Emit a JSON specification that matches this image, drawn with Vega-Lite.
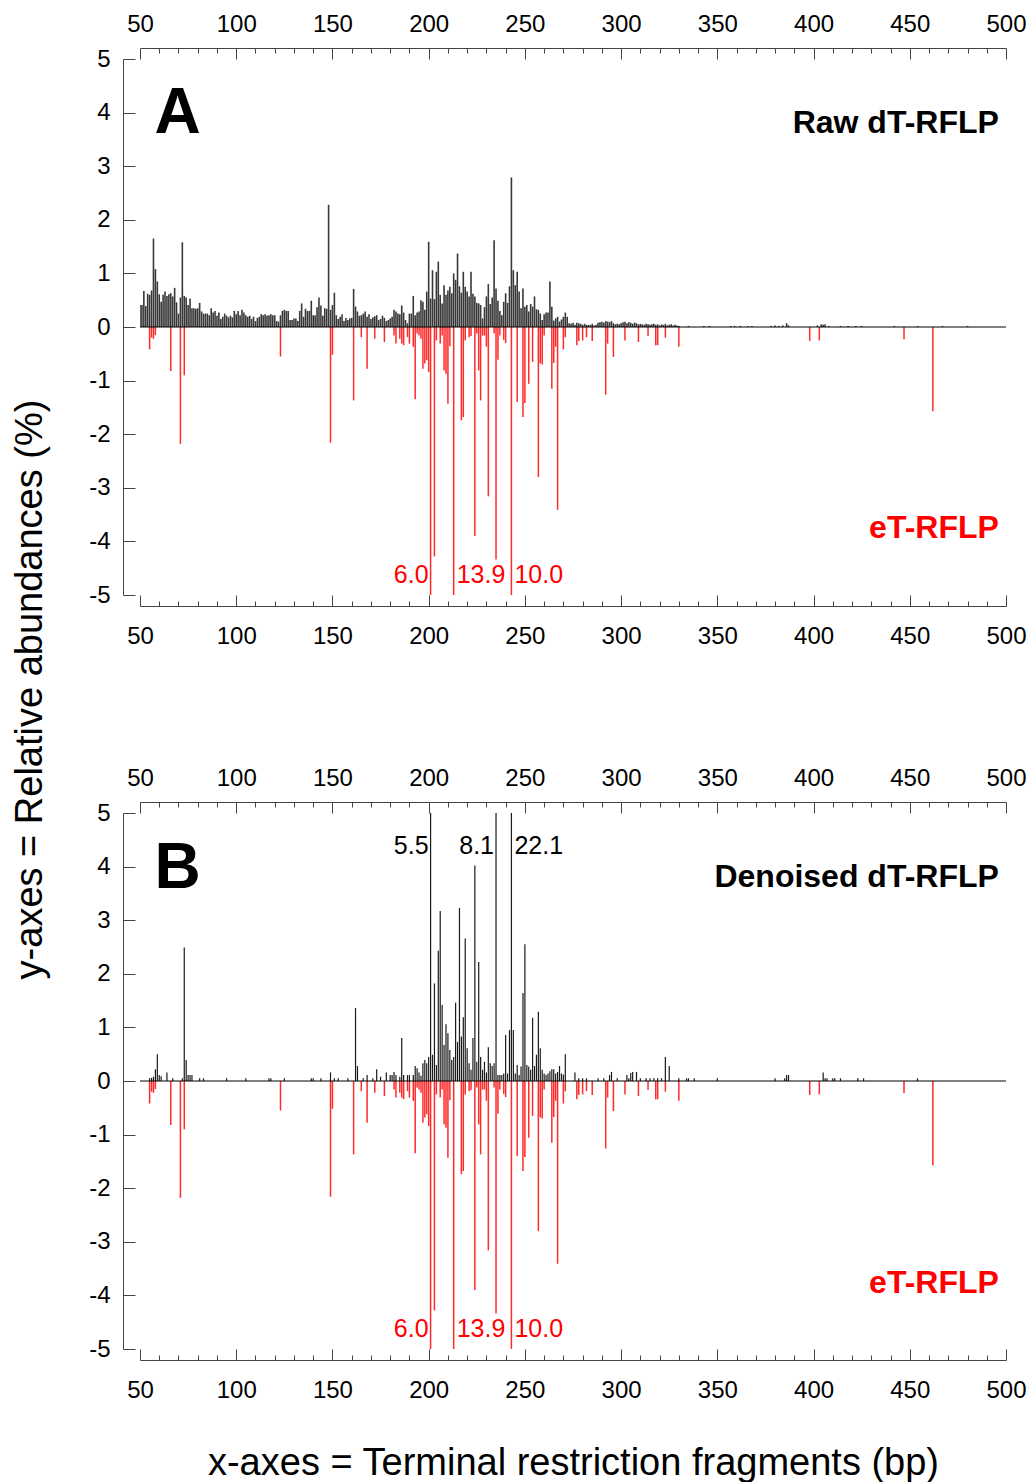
{
  "$schema": "https://vega.github.io/schema/vega-lite/v6.json",
  "padding": {"left": 11, "top": 6, "right": 0, "bottom": 0},
  "background": "white",
  "config": {
    "font": "Liberation Sans",
    "view": {"stroke": null},
    "axis": {"grid": false, "labelFont": "Liberation Sans", "titleFont": "Liberation Sans", "labelColor": "black", "titleColor": "black", "domainColor": "#444", "tickColor": "#444", "labelFontSize": 24, "titleFontSize": 38, "titleFontWeight": "normal", "labelOverlap": false, "labelFlush": false, "tickWidth": 1, "domainWidth": 1}
  },
  "datasets": {
    "eT": [
      {"bp":55,"v":-0.42},{"bp":56,"v":-0.2},{"bp":57,"v":-0.22},{"bp":58,"v":-0.15},{"bp":66,"v":-0.82},{"bp":71,"v":-2.18},{"bp":73,"v":-0.9},{"bp":123,"v":-0.55},{"bp":149,"v":-2.16},{"bp":150,"v":-0.52},{"bp":161,"v":-1.37},{"bp":165,"v":-0.19},{"bp":168,"v":-0.78},{"bp":172,"v":-0.22},{"bp":177,"v":-0.28},{"bp":182,"v":-0.16},{"bp":183,"v":-0.31},{"bp":185,"v":-0.22},{"bp":186,"v":-0.31},{"bp":187,"v":-0.34},{"bp":189,"v":-0.19},{"bp":190,"v":-0.31},{"bp":192,"v":-0.37},{"bp":193,"v":-1.35},{"bp":194,"v":-0.12},{"bp":195,"v":-0.16},{"bp":196,"v":-0.22},{"bp":197,"v":-0.78},{"bp":198,"v":-0.68},{"bp":199,"v":-0.62},{"bp":200,"v":-0.84},{"bp":201,"v":-6.0},{"bp":203,"v":-4.28},{"bp":204,"v":-0.25},{"bp":206,"v":-0.31},{"bp":207,"v":-0.16},{"bp":208,"v":-0.81},{"bp":209,"v":-0.87},{"bp":210,"v":-1.43},{"bp":211,"v":-0.36},{"bp":213,"v":-13.9},{"bp":217,"v":-1.74},{"bp":218,"v":-1.68},{"bp":219,"v":-0.25},{"bp":221,"v":-0.19},{"bp":222,"v":-0.17},{"bp":224,"v":-3.9},{"bp":225,"v":-0.12},{"bp":226,"v":-0.81},{"bp":227,"v":-1.37},{"bp":228,"v":-0.16},{"bp":229,"v":-0.16},{"bp":230,"v":-0.37},{"bp":231,"v":-3.16},{"bp":234,"v":-0.12},{"bp":235,"v":-4.34},{"bp":236,"v":-0.61},{"bp":237,"v":-0.16},{"bp":239,"v":-0.24},{"bp":240,"v":-0.3},{"bp":243,"v":-10.0},{"bp":246,"v":-1.4},{"bp":249,"v":-1.68},{"bp":250,"v":-1.42},{"bp":252,"v":-1.06},{"bp":254,"v":-0.65},{"bp":257,"v":-2.8},{"bp":258,"v":-0.68},{"bp":259,"v":-0.7},{"bp":260,"v":-0.16},{"bp":264,"v":-1.15},{"bp":265,"v":-0.67},{"bp":266,"v":-0.37},{"bp":267,"v":-3.41},{"bp":270,"v":-0.42},{"bp":271,"v":-0.19},{"bp":277,"v":-0.34},{"bp":278,"v":-0.26},{"bp":280,"v":-0.25},{"bp":282,"v":-0.19},{"bp":285,"v":-0.26},{"bp":292,"v":-1.26},{"bp":293,"v":-0.31},{"bp":296,"v":-0.56},{"bp":302,"v":-0.25},{"bp":309,"v":-0.28},{"bp":314,"v":-0.17},{"bp":318,"v":-0.34},{"bp":319,"v":-0.34},{"bp":323,"v":-0.2},{"bp":330,"v":-0.37},{"bp":398,"v":-0.26},{"bp":403,"v":-0.25},{"bp":447,"v":-0.23},{"bp":462,"v":-1.57}
    ],
    "raw": [
      {"bp":50,"v":0.41},{"bp":51,"v":0.41},{"bp":52,"v":0.67},{"bp":53,"v":0.39},{"bp":54,"v":0.62},{"bp":55,"v":0.6},{"bp":56,"v":0.68},{"bp":57,"v":1.65},{"bp":58,"v":1.08},{"bp":59,"v":0.85},{"bp":60,"v":0.61},{"bp":61,"v":0.47},{"bp":62,"v":0.6},{"bp":63,"v":0.66},{"bp":64,"v":0.58},{"bp":65,"v":0.61},{"bp":66,"v":0.63},{"bp":67,"v":0.57},{"bp":68,"v":0.73},{"bp":69,"v":0.46},{"bp":70,"v":0.25},{"bp":71,"v":0.55},{"bp":72,"v":1.58},{"bp":73,"v":0.58},{"bp":74,"v":0.55},{"bp":75,"v":0.41},{"bp":76,"v":0.53},{"bp":77,"v":0.35},{"bp":78,"v":0.35},{"bp":79,"v":0.34},{"bp":80,"v":0.35},{"bp":81,"v":0.45},{"bp":82,"v":0.29},{"bp":83,"v":0.25},{"bp":84,"v":0.25},{"bp":85,"v":0.25},{"bp":86,"v":0.22},{"bp":87,"v":0.35},{"bp":88,"v":0.27},{"bp":89,"v":0.3},{"bp":90,"v":0.21},{"bp":91,"v":0.27},{"bp":92,"v":0.15},{"bp":93,"v":0.19},{"bp":94,"v":0.25},{"bp":95,"v":0.21},{"bp":96,"v":0.18},{"bp":97,"v":0.21},{"bp":98,"v":0.18},{"bp":99,"v":0.3},
      {"bp":100,"v":0.24},{"bp":101,"v":0.3},{"bp":102,"v":0.22},{"bp":103,"v":0.32},{"bp":104,"v":0.27},{"bp":105,"v":0.22},{"bp":106,"v":0.19},{"bp":107,"v":0.21},{"bp":108,"v":0.15},{"bp":109,"v":0.19},{"bp":110,"v":0.11},{"bp":111,"v":0.17},{"bp":112,"v":0.19},{"bp":113,"v":0.24},{"bp":114,"v":0.22},{"bp":115,"v":0.24},{"bp":116,"v":0.21},{"bp":117,"v":0.22},{"bp":118,"v":0.24},{"bp":119,"v":0.22},{"bp":120,"v":0.22},{"bp":121,"v":0.11},{"bp":122,"v":0.1},{"bp":123,"v":0.22},{"bp":124,"v":0.3},{"bp":125,"v":0.32},{"bp":126,"v":0.3},{"bp":127,"v":0.3},{"bp":128,"v":0.13},{"bp":129,"v":0.13},{"bp":130,"v":0.16},{"bp":131,"v":0.16},{"bp":132,"v":0.11},{"bp":133,"v":0.3},{"bp":134,"v":0.44},{"bp":135,"v":0.19},{"bp":136,"v":0.34},{"bp":137,"v":0.3},{"bp":138,"v":0.3},{"bp":139,"v":0.49},{"bp":140,"v":0.22},{"bp":141,"v":0.22},{"bp":142,"v":0.37},{"bp":143,"v":0.55},{"bp":144,"v":0.4},{"bp":145,"v":0.21},{"bp":146,"v":0.35},{"bp":147,"v":0.34},{"bp":148,"v":2.28},{"bp":149,"v":0.32},
      {"bp":150,"v":0.41},{"bp":151,"v":0.64},{"bp":152,"v":0.22},{"bp":153,"v":0.15},{"bp":154,"v":0.19},{"bp":155,"v":0.24},{"bp":156,"v":0.11},{"bp":157,"v":0.17},{"bp":158,"v":0.13},{"bp":159,"v":0.16},{"bp":160,"v":0.17},{"bp":161,"v":0.71},{"bp":162,"v":0.38},{"bp":163,"v":0.29},{"bp":164,"v":0.21},{"bp":165,"v":0.22},{"bp":166,"v":0.25},{"bp":167,"v":0.29},{"bp":168,"v":0.19},{"bp":169,"v":0.24},{"bp":170,"v":0.15},{"bp":171,"v":0.18},{"bp":172,"v":0.2},{"bp":173,"v":0.22},{"bp":174,"v":0.13},{"bp":175,"v":0.15},{"bp":176,"v":0.21},{"bp":177,"v":0.17},{"bp":178,"v":0.11},{"bp":179,"v":0.13},{"bp":180,"v":0.16},{"bp":181,"v":0.19},{"bp":182,"v":0.32},{"bp":183,"v":0.29},{"bp":184,"v":0.25},{"bp":185,"v":0.24},{"bp":186,"v":0.4},{"bp":187,"v":0.27},{"bp":188,"v":0.13},{"bp":189,"v":0.07},{"bp":190,"v":0.25},{"bp":191,"v":0.25},{"bp":192,"v":0.58},{"bp":193,"v":0.22},{"bp":194,"v":0.27},{"bp":195,"v":0.29},{"bp":196,"v":0.5},{"bp":197,"v":0.47},{"bp":198,"v":0.32},{"bp":199,"v":0.66},
      {"bp":200,"v":1.59},{"bp":201,"v":0.53},{"bp":202,"v":1.06},{"bp":203,"v":0.52},{"bp":204,"v":1.03},{"bp":205,"v":1.22},{"bp":206,"v":0.6},{"bp":207,"v":0.44},{"bp":208,"v":0.78},{"bp":209,"v":0.6},{"bp":210,"v":0.68},{"bp":211,"v":0.75},{"bp":212,"v":0.63},{"bp":213,"v":1.0},{"bp":214,"v":0.88},{"bp":215,"v":1.37},{"bp":216,"v":0.76},{"bp":217,"v":0.64},{"bp":218,"v":1.03},{"bp":219,"v":0.75},{"bp":220,"v":0.66},{"bp":221,"v":0.57},{"bp":222,"v":1.03},{"bp":223,"v":0.62},{"bp":224,"v":0.57},{"bp":225,"v":0.45},{"bp":226,"v":0.44},{"bp":227,"v":0.41},{"bp":228,"v":0.16},{"bp":229,"v":0.37},{"bp":230,"v":0.57},{"bp":231,"v":0.8},{"bp":232,"v":0.43},{"bp":233,"v":0.55},{"bp":234,"v":1.62},{"bp":235,"v":0.72},{"bp":236,"v":0.49},{"bp":237,"v":0.3},{"bp":238,"v":0.22},{"bp":239,"v":0.47},{"bp":240,"v":0.63},{"bp":241,"v":0.45},{"bp":242,"v":0.76},{"bp":243,"v":2.79},{"bp":244,"v":1.06},{"bp":245,"v":0.78},{"bp":246,"v":1.03},{"bp":247,"v":0.66},{"bp":248,"v":0.35},{"bp":249,"v":0.72},
      {"bp":250,"v":0.38},{"bp":251,"v":0.41},{"bp":252,"v":0.29},{"bp":253,"v":0.43},{"bp":254,"v":0.38},{"bp":255,"v":0.57},{"bp":256,"v":0.33},{"bp":257,"v":0.32},{"bp":258,"v":0.25},{"bp":259,"v":0.13},{"bp":260,"v":0.24},{"bp":261,"v":0.27},{"bp":262,"v":0.27},{"bp":263,"v":0.85},{"bp":264,"v":0.38},{"bp":265,"v":0.12},{"bp":266,"v":0.16},{"bp":267,"v":0.19},{"bp":268,"v":0.1},{"bp":269,"v":0.14},{"bp":270,"v":0.19},{"bp":271,"v":0.27},{"bp":272,"v":0.19},{"bp":273,"v":0.07},{"bp":274,"v":0.06},{"bp":275,"v":0.08},{"bp":276,"v":0.04},{"bp":277,"v":0.08},{"bp":278,"v":0.07},{"bp":279,"v":0.06},{"bp":280,"v":0.04},{"bp":281,"v":0.06},{"bp":282,"v":0.04},{"bp":283,"v":0.04},{"bp":284,"v":0.04},{"bp":285,"v":0.06},{"bp":286,"v":0.03},{"bp":287,"v":0.04},{"bp":288,"v":0.08},{"bp":289,"v":0.09},{"bp":290,"v":0.1},{"bp":291,"v":0.08},{"bp":292,"v":0.11},{"bp":293,"v":0.1},{"bp":294,"v":0.09},{"bp":295,"v":0.11},{"bp":296,"v":0.07},{"bp":297,"v":0.05},{"bp":298,"v":0.06},{"bp":299,"v":0.05},
      {"bp":300,"v":0.07},{"bp":301,"v":0.09},{"bp":302,"v":0.1},{"bp":303,"v":0.07},{"bp":304,"v":0.09},{"bp":305,"v":0.08},{"bp":306,"v":0.06},{"bp":307,"v":0.08},{"bp":308,"v":0.07},{"bp":309,"v":0.05},{"bp":310,"v":0.06},{"bp":311,"v":0.05},{"bp":312,"v":0.04},{"bp":313,"v":0.06},{"bp":314,"v":0.05},{"bp":315,"v":0.04},{"bp":316,"v":0.05},{"bp":317,"v":0.06},{"bp":318,"v":0.04},{"bp":319,"v":0.05},{"bp":320,"v":0.03},{"bp":321,"v":0.05},{"bp":322,"v":0.04},{"bp":323,"v":0.06},{"bp":324,"v":0.03},{"bp":325,"v":0.04},{"bp":326,"v":0.05},{"bp":327,"v":0.03},{"bp":328,"v":0.04},{"bp":329,"v":0.03},{"bp":330,"v":0.02},{"bp":335,"v":0.02},{"bp":343,"v":0.02},{"bp":346,"v":0.02},{"bp":357,"v":0.02},{"bp":359,"v":0.02},{"bp":362,"v":0.02},{"bp":366,"v":0.02},{"bp":368,"v":0.02},{"bp":378,"v":0.02},{"bp":380,"v":0.03},{"bp":382,"v":0.02},{"bp":384,"v":0.03},{"bp":386,"v":0.07},{"bp":387,"v":0.03},{"bp":402,"v":0.03},{"bp":404,"v":0.05},{"bp":405,"v":0.04},{"bp":406,"v":0.05},{"bp":408,"v":0.02},{"bp":414,"v":0.02},{"bp":418,"v":0.02},{"bp":422,"v":0.02},{"bp":425,"v":0.02},{"bp":442,"v":0.02},{"bp":454,"v":0.02},{"bp":467,"v":0.02},{"bp":480,"v":0.02}
    ],
    "den": [
      {"bp":55,"v":0.05},{"bp":56,"v":0.06},{"bp":57,"v":0.08},{"bp":58,"v":0.22},{"bp":59,"v":0.5},{"bp":60,"v":0.11},{"bp":61,"v":0.09},{"bp":64,"v":0.16},{"bp":67,"v":0.05},{"bp":72,"v":0.05},{"bp":73,"v":2.49},{"bp":74,"v":0.39},{"bp":75,"v":0.11},{"bp":76,"v":0.11},{"bp":77,"v":0.11},{"bp":81,"v":0.05},{"bp":83,"v":0.05},{"bp":95,"v":0.05},{"bp":105,"v":0.05},{"bp":117,"v":0.05},{"bp":118,"v":0.05},{"bp":125,"v":0.05},{"bp":139,"v":0.05},{"bp":140,"v":0.05},{"bp":144,"v":0.05},{"bp":149,"v":0.16},{"bp":151,"v":0.05},{"bp":153,"v":0.05},{"bp":158,"v":0.05},{"bp":162,"v":1.36},{"bp":163,"v":0.28},{"bp":166,"v":0.05},{"bp":168,"v":0.11},{"bp":171,"v":0.05},{"bp":173,"v":0.22},{"bp":175,"v":0.08},{"bp":178,"v":0.16},{"bp":180,"v":0.11},{"bp":181,"v":0.11},{"bp":182,"v":0.17},{"bp":183,"v":0.11},{"bp":185,"v":0.08},{"bp":186,"v":0.8},{"bp":187,"v":0.11},{"bp":189,"v":0.11},{"bp":190,"v":0.11},{"bp":192,"v":0.11},{"bp":193,"v":0.28},{"bp":194,"v":0.24},{"bp":195,"v":0.16},{"bp":196,"v":0.1},{"bp":197,"v":0.33},{"bp":198,"v":0.39},{"bp":199,"v":0.33},
      {"bp":200,"v":0.45},{"bp":201,"v":5.5},{"bp":202,"v":0.49},{"bp":203,"v":1.82},{"bp":204,"v":0.3},{"bp":205,"v":2.43},{"bp":206,"v":3.17},{"bp":207,"v":1.42},{"bp":208,"v":0.67},{"bp":209,"v":1.06},{"bp":210,"v":0.89},{"bp":211,"v":0.58},{"bp":212,"v":0.39},{"bp":213,"v":0.45},{"bp":214,"v":1.46},{"bp":215,"v":0.73},{"bp":216,"v":3.23},{"bp":217,"v":0.83},{"bp":218,"v":1.19},{"bp":219,"v":2.66},{"bp":220,"v":0.61},{"bp":221,"v":0.33},{"bp":222,"v":0.21},{"bp":223,"v":0.8},{"bp":224,"v":4.02},{"bp":225,"v":0.36},{"bp":226,"v":2.22},{"bp":227,"v":0.45},{"bp":228,"v":0.21},{"bp":229,"v":0.36},{"bp":230,"v":0.16},{"bp":231,"v":0.63},{"bp":232,"v":0.33},{"bp":233,"v":0.28},{"bp":234,"v":0.33},{"bp":235,"v":8.1},{"bp":236,"v":0.11},{"bp":237,"v":0.11},{"bp":238,"v":0.11},{"bp":239,"v":0.14},{"bp":240,"v":0.86},{"bp":241,"v":0.14},{"bp":242,"v":0.95},{"bp":243,"v":22.1},{"bp":244,"v":0.95},{"bp":245,"v":0.14},{"bp":246,"v":0.3},{"bp":247,"v":0.11},{"bp":248,"v":0.27},{"bp":249,"v":1.64},
      {"bp":250,"v":2.55},{"bp":251,"v":0.3},{"bp":252,"v":0.27},{"bp":253,"v":0.21},{"bp":254,"v":1.18},{"bp":255,"v":0.28},{"bp":256,"v":0.49},{"bp":257,"v":1.29},{"bp":258,"v":0.61},{"bp":259,"v":0.21},{"bp":260,"v":0.14},{"bp":261,"v":0.11},{"bp":262,"v":0.14},{"bp":263,"v":0.18},{"bp":264,"v":0.22},{"bp":265,"v":0.22},{"bp":266,"v":0.14},{"bp":267,"v":0.17},{"bp":268,"v":0.28},{"bp":269,"v":0.14},{"bp":270,"v":0.12},{"bp":271,"v":0.5},{"bp":276,"v":0.16},{"bp":278,"v":0.05},{"bp":280,"v":0.05},{"bp":282,"v":0.05},{"bp":288,"v":0.05},{"bp":291,"v":0.05},{"bp":294,"v":0.11},{"bp":295,"v":0.17},{"bp":298,"v":0.05},{"bp":303,"v":0.11},{"bp":304,"v":0.05},{"bp":305,"v":0.15},{"bp":306,"v":0.17},{"bp":308,"v":0.17},{"bp":310,"v":0.05},{"bp":313,"v":0.05},{"bp":315,"v":0.05},{"bp":317,"v":0.05},{"bp":319,"v":0.05},{"bp":321,"v":0.05},{"bp":323,"v":0.45},{"bp":325,"v":0.28},{"bp":330,"v":0.05},{"bp":334,"v":0.05},{"bp":335,"v":0.05},{"bp":338,"v":0.05},{"bp":350,"v":0.05},{"bp":380,"v":0.05},{"bp":385,"v":0.05},{"bp":386,"v":0.11},{"bp":387,"v":0.11},{"bp":405,"v":0.16},{"bp":406,"v":0.05},{"bp":407,"v":0.05},{"bp":410,"v":0.05},{"bp":411,"v":0.05},{"bp":414,"v":0.05},{"bp":423,"v":0.05},{"bp":426,"v":0.05},{"bp":454,"v":0.05}
    ],
    "one": [{}]
  },
  "vconcat": [
    {
      "width": 866,
      "height": 536,
      "layer": [
        {
          "data": {"name": "eT"},
          "mark": {"type": "bar", "color": "#ff2a2a", "size": 1.5, "clip": true},
          "encoding": {
            "x": {"field": "bp", "type": "quantitative", "scale": {"domain": [50, 500], "nice": false, "padding": 0, "zero": false},
              "axis": {"orient": "bottom", "title": null, "offset": 11, "labelPadding": 29,
                "values": [50,60,70,80,90,100,110,120,130,140,150,160,170,180,190,200,210,220,230,240,250,260,270,280,290,300,310,320,330,340,350,360,370,380,390,400,410,420,430,440,450,460,470,480,490,500],
                "labelExpr": "datum.value % 50 === 0 ? datum.label : ''",
                "tickSize": {"condition": {"test": "datum.value % 50 === 0", "value": -11}, "value": -5}}},
            "y": {"field": "v", "type": "quantitative", "scale": {"domain": [-5, 5], "nice": false},
              "axis": {"orient": "left", "title": "y-axes = Relative abundances (%)", "offset": 17, "labelPadding": 25,
                "values": [-5,-4.5,-4,-3.5,-3,-2.5,-2,-1.5,-1,-0.5,0,0.5,1,1.5,2,2.5,3,3.5,4,4.5,5],
                "labelExpr": "datum.value % 1 === 0 ? (datum.value < 0 ? '-' + abs(datum.value) : '' + datum.value) : ''",
                "tickSize": {"condition": {"test": "datum.value % 1 === 0", "value": -12}, "value": -6},
                "titleX": -82, "titleY": 630, "titleAngle": -90, "titleBaseline": "alphabetic", "titleAlign": "center"}}
          }
        },
        {
          "data": {"name": "raw"},
          "mark": {"type": "bar", "color": "#383838", "size": 1.6, "clip": true},
          "encoding": {
            "x": {"field": "bp", "type": "quantitative", "scale": {"domain": [50, 500], "nice": false, "padding": 0, "zero": false},
              "axis": {"orient": "top", "title": null, "offset": 11, "labelPadding": 23,
                "values": [50,60,70,80,90,100,110,120,130,140,150,160,170,180,190,200,210,220,230,240,250,260,270,280,290,300,310,320,330,340,350,360,370,380,390,400,410,420,430,440,450,460,470,480,490,500],
                "labelExpr": "datum.value % 50 === 0 ? datum.label : ''",
                "tickSize": {"condition": {"test": "datum.value % 50 === 0", "value": -11}, "value": -5}}},
            "y": {"field": "v", "type": "quantitative", "scale": {"domain": [-5, 5], "nice": false},
              "axis": {"orient": "left", "title": "y-axes = Relative abundances (%)", "offset": 17, "labelPadding": 25,
                "values": [-5,-4.5,-4,-3.5,-3,-2.5,-2,-1.5,-1,-0.5,0,0.5,1,1.5,2,2.5,3,3.5,4,4.5,5],
                "labelExpr": "datum.value % 1 === 0 ? (datum.value < 0 ? '-' + abs(datum.value) : '' + datum.value) : ''",
                "tickSize": {"condition": {"test": "datum.value % 1 === 0", "value": -12}, "value": -6},
                "titleX": -82, "titleY": 630, "titleAngle": -90, "titleBaseline": "alphabetic", "titleAlign": "center"}}
          }
        },
        {
          "data": {"name": "one"},
          "mark": {"type": "rule", "color": "black", "strokeWidth": 1},
          "encoding": {"y": {"datum": 0, "type": "quantitative", "scale": {"domain": [-5, 5], "nice": false}}}
        },
        {
          "data": {"name": "one"},
          "mark": {"type": "text", "text": "A", "fontSize": 64, "fontWeight": "bold", "align": "left", "baseline": "alphabetic", "color": "black"},
          "encoding": {
            "x": {"datum": 57.5, "type": "quantitative", "scale": {"domain": [50, 500], "nice": false, "padding": 0, "zero": false}, "axis": null},
            "y": {"datum": 3.62, "type": "quantitative", "scale": {"domain": [-5, 5], "nice": false}}
          }
        },
        {
          "data": {"name": "one"},
          "mark": {"type": "text", "text": "Raw dT-RFLP", "fontSize": 32, "fontWeight": "bold", "align": "right", "baseline": "alphabetic", "color": "black"},
          "encoding": {
            "x": {"datum": 496.3, "type": "quantitative", "scale": {"domain": [50, 500], "nice": false, "padding": 0, "zero": false}, "axis": null},
            "y": {"datum": 3.62, "type": "quantitative", "scale": {"domain": [-5, 5], "nice": false}}
          }
        },
        {
          "data": {"name": "one"},
          "mark": {"type": "text", "text": "eT-RFLP", "fontSize": 32, "fontWeight": "bold", "align": "right", "baseline": "alphabetic", "color": "#ff0000"},
          "encoding": {
            "x": {"datum": 496.3, "type": "quantitative", "scale": {"domain": [50, 500], "nice": false, "padding": 0, "zero": false}, "axis": null},
            "y": {"datum": -3.94, "type": "quantitative", "scale": {"domain": [-5, 5], "nice": false}}
          }
        },
        {
          "data": {"name": "eT"},
          "transform": [{"filter": "datum.v < -5"}],
          "mark": {"type": "text", "fontSize": 25, "baseline": "alphabetic", "color": "#ff0000",
            "align": {"expr": "datum.bp === 201 ? 'right' : 'left'"},
            "dx": {"expr": "datum.bp === 201 ? -2 : 3"},
            "text": {"expr": "format(abs(datum.v), '.1f')"}},
          "encoding": {
            "x": {"field": "bp", "type": "quantitative", "scale": {"domain": [50, 500], "nice": false, "padding": 0, "zero": false}, "axis": null},
            "y": {"datum": -4.77, "type": "quantitative", "scale": {"domain": [-5, 5], "nice": false}}
          }
        }
      ],
      "resolve": {"axis": {"x": "independent"}}
    },
    {
      "width": 866,
      "height": 536,
      "layer": [
        {
          "data": {"name": "eT"},
          "mark": {"type": "bar", "color": "#ff2a2a", "size": 1.5, "clip": true},
          "encoding": {
            "x": {"field": "bp", "type": "quantitative", "scale": {"domain": [50, 500], "nice": false, "padding": 0, "zero": false},
              "axis": {"orient": "bottom", "title": "x-axes = Terminal restriction fragments (bp)", "titlePadding": 36, "offset": 11, "labelPadding": 29,
                "values": [50,60,70,80,90,100,110,120,130,140,150,160,170,180,190,200,210,220,230,240,250,260,270,280,290,300,310,320,330,340,350,360,370,380,390,400,410,420,430,440,450,460,470,480,490,500],
                "labelExpr": "datum.value % 50 === 0 ? datum.label : ''",
                "tickSize": {"condition": {"test": "datum.value % 50 === 0", "value": -11}, "value": -5}}},
            "y": {"field": "v", "type": "quantitative", "scale": {"domain": [-5, 5], "nice": false},
              "axis": {"orient": "left", "title": null, "offset": 17, "labelPadding": 25,
                "values": [-5,-4.5,-4,-3.5,-3,-2.5,-2,-1.5,-1,-0.5,0,0.5,1,1.5,2,2.5,3,3.5,4,4.5,5],
                "labelExpr": "datum.value % 1 === 0 ? (datum.value < 0 ? '-' + abs(datum.value) : '' + datum.value) : ''",
                "tickSize": {"condition": {"test": "datum.value % 1 === 0", "value": -12}, "value": -6}}}
          }
        },
        {
          "data": {"name": "den"},
          "mark": {"type": "bar", "color": "#1a1a1a", "size": 1.2, "clip": true},
          "encoding": {
            "x": {"field": "bp", "type": "quantitative", "scale": {"domain": [50, 500], "nice": false, "padding": 0, "zero": false},
              "axis": {"orient": "top", "title": null, "offset": 11, "labelPadding": 23,
                "values": [50,60,70,80,90,100,110,120,130,140,150,160,170,180,190,200,210,220,230,240,250,260,270,280,290,300,310,320,330,340,350,360,370,380,390,400,410,420,430,440,450,460,470,480,490,500],
                "labelExpr": "datum.value % 50 === 0 ? datum.label : ''",
                "tickSize": {"condition": {"test": "datum.value % 50 === 0", "value": -11}, "value": -5}}},
            "y": {"field": "v", "type": "quantitative", "scale": {"domain": [-5, 5], "nice": false},
              "axis": {"orient": "left", "title": null, "offset": 17, "labelPadding": 25,
                "values": [-5,-4.5,-4,-3.5,-3,-2.5,-2,-1.5,-1,-0.5,0,0.5,1,1.5,2,2.5,3,3.5,4,4.5,5],
                "labelExpr": "datum.value % 1 === 0 ? (datum.value < 0 ? '-' + abs(datum.value) : '' + datum.value) : ''",
                "tickSize": {"condition": {"test": "datum.value % 1 === 0", "value": -12}, "value": -6}}}
          }
        },
        {
          "data": {"name": "one"},
          "mark": {"type": "rule", "color": "black", "strokeWidth": 1},
          "encoding": {"y": {"datum": 0, "type": "quantitative", "scale": {"domain": [-5, 5], "nice": false}}}
        },
        {
          "data": {"name": "one"},
          "mark": {"type": "text", "text": "B", "fontSize": 64, "fontWeight": "bold", "align": "left", "baseline": "alphabetic", "color": "black"},
          "encoding": {
            "x": {"datum": 57.5, "type": "quantitative", "scale": {"domain": [50, 500], "nice": false, "padding": 0, "zero": false}, "axis": null},
            "y": {"datum": 3.61, "type": "quantitative", "scale": {"domain": [-5, 5], "nice": false}}
          }
        },
        {
          "data": {"name": "one"},
          "mark": {"type": "text", "text": "Denoised dT-RFLP", "fontSize": 32, "fontWeight": "bold", "align": "right", "baseline": "alphabetic", "color": "black"},
          "encoding": {
            "x": {"datum": 496.3, "type": "quantitative", "scale": {"domain": [50, 500], "nice": false, "padding": 0, "zero": false}, "axis": null},
            "y": {"datum": 3.62, "type": "quantitative", "scale": {"domain": [-5, 5], "nice": false}}
          }
        },
        {
          "data": {"name": "one"},
          "mark": {"type": "text", "text": "eT-RFLP", "fontSize": 32, "fontWeight": "bold", "align": "right", "baseline": "alphabetic", "color": "#ff0000"},
          "encoding": {
            "x": {"datum": 496.3, "type": "quantitative", "scale": {"domain": [50, 500], "nice": false, "padding": 0, "zero": false}, "axis": null},
            "y": {"datum": -3.96, "type": "quantitative", "scale": {"domain": [-5, 5], "nice": false}}
          }
        },
        {
          "data": {"name": "eT"},
          "transform": [{"filter": "datum.v < -5"}],
          "mark": {"type": "text", "fontSize": 25, "baseline": "alphabetic", "color": "#ff0000",
            "align": {"expr": "datum.bp === 201 ? 'right' : 'left'"},
            "dx": {"expr": "datum.bp === 201 ? -2 : 3"},
            "text": {"expr": "format(abs(datum.v), '.1f')"}},
          "encoding": {
            "x": {"field": "bp", "type": "quantitative", "scale": {"domain": [50, 500], "nice": false, "padding": 0, "zero": false}, "axis": null},
            "y": {"datum": -4.77, "type": "quantitative", "scale": {"domain": [-5, 5], "nice": false}}
          }
        },
        {
          "data": {"name": "den"},
          "transform": [{"filter": "datum.v > 5"}],
          "mark": {"type": "text", "fontSize": 25, "baseline": "alphabetic", "color": "black",
            "align": {"expr": "datum.bp === 243 ? 'left' : 'right'"},
            "dx": {"expr": "datum.bp === 243 ? 3 : -2"},
            "text": {"expr": "format(datum.v, '.1f')"}},
          "encoding": {
            "x": {"field": "bp", "type": "quantitative", "scale": {"domain": [50, 500], "nice": false, "padding": 0, "zero": false}, "axis": null},
            "y": {"datum": 4.24, "type": "quantitative", "scale": {"domain": [-5, 5], "nice": false}}
          }
        }
      ],
      "resolve": {"axis": {"x": "independent"}}
    }
  ],
  "spacing": 218,
  "bounds": "flush"
}
